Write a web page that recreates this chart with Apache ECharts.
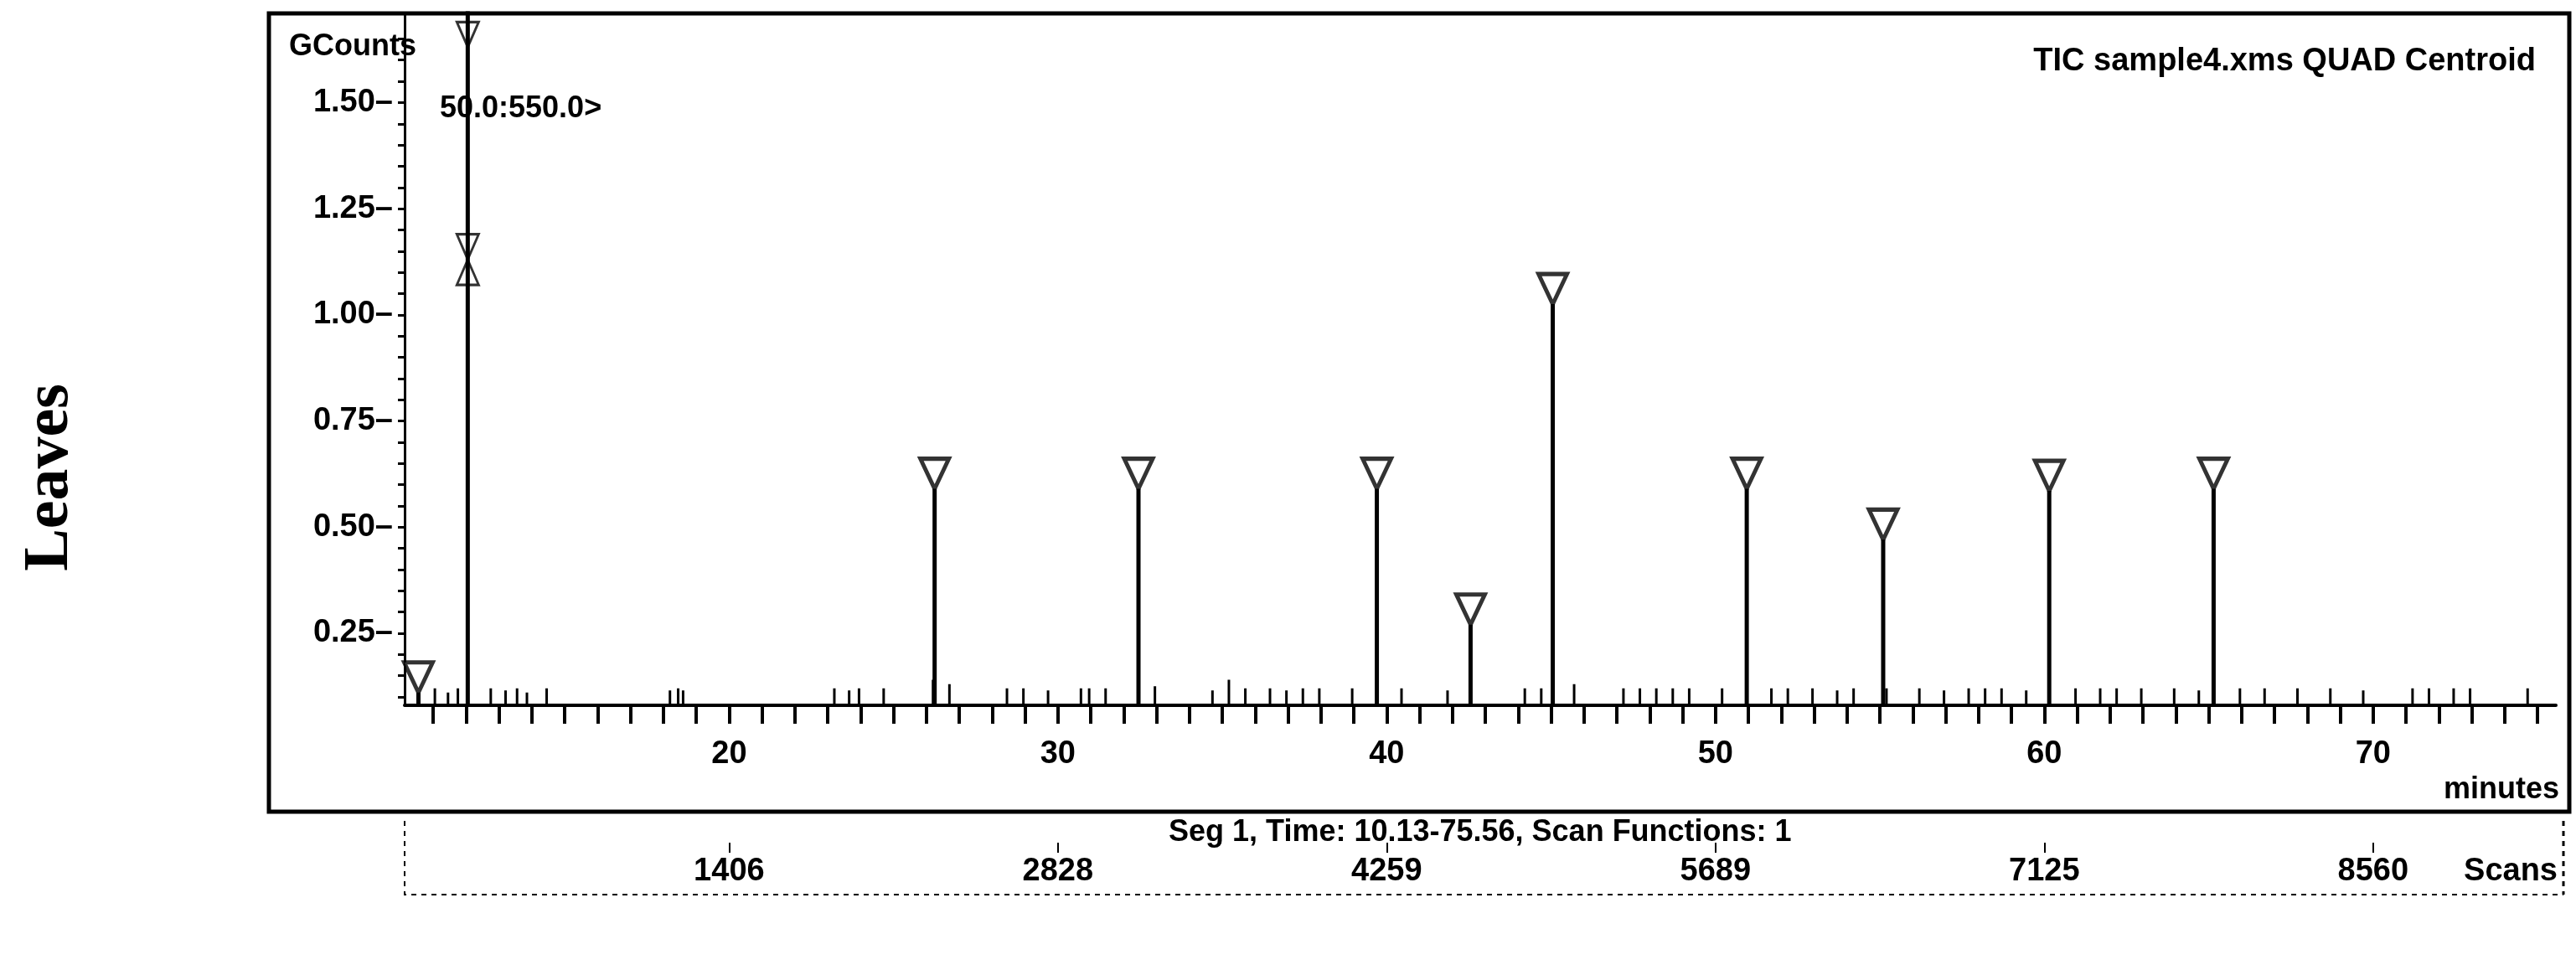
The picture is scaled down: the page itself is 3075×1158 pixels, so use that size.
<!DOCTYPE html>
<html>
<head>
  <meta charset="utf-8">
  <title>TIC sample4</title>
  <script src="https://cdn.jsdelivr.net/npm/echarts@6/dist/echarts.min.js"></script>
  <style>html,body{margin:0;padding:0;background:#fff}</style>
</head>
<body>
  <div id="main" style="width:3075px;height:1158px;"></div>
  <script type="text/javascript">
    // peaks (minutes, GCounts at apex)
    var peakTimes = [10.55, 12.05, 26.25, 32.45, 39.7, 42.55, 45.05, 50.95, 55.1, 60.15, 65.15]
    var peakValues = [0.11, 1.85, 0.59, 0.59, 0.59, 0.27, 1.025, 0.59, 0.47, 0.585, 0.59]
    // small spikes along the baseline
    var spikeTimes = [11.05, 11.45, 11.75, 12.75, 13.2, 13.55, 13.85, 14.45, 18.2, 18.45, 18.6, 23.2, 23.65, 23.95, 24.7,
      26.2, 26.7, 28.45, 28.95, 29.7, 30.7, 30.95, 31.45, 32.95, 34.7, 35.2, 35.7, 36.45, 36.95, 37.45, 37.95, 38.95,
      40.45, 41.85, 44.2, 44.7, 45.7, 47.2, 47.7, 48.2, 48.7, 49.2, 50.2, 51.7, 52.2, 52.95, 53.7, 54.2, 55.2, 56.2,
      56.95, 57.7, 58.2, 58.7, 59.45, 60.95, 61.7, 62.2, 62.95, 63.95, 64.7, 65.95, 66.7, 67.7, 68.7, 69.7, 71.2,
      71.7, 72.45, 72.95, 74.7]
    var spikeValues = [0.12, 0.11, 0.12, 0.12, 0.115, 0.12, 0.11, 0.12, 0.115, 0.12, 0.115, 0.12, 0.115, 0.12, 0.12,
      0.14, 0.13, 0.12, 0.12, 0.115, 0.12, 0.12, 0.12, 0.125, 0.115, 0.14, 0.12, 0.12, 0.115, 0.12, 0.12, 0.12,
      0.12, 0.115, 0.12, 0.12, 0.13, 0.12, 0.12, 0.12, 0.12, 0.12, 0.12, 0.12, 0.12, 0.12, 0.115, 0.12, 0.12, 0.12,
      0.115, 0.12, 0.12, 0.12, 0.115, 0.12, 0.12, 0.12, 0.12, 0.12, 0.115, 0.12, 0.12, 0.12, 0.12, 0.115, 0.12,
      0.12, 0.12, 0.12, 0.12]
    var yLabels = [0.25, 0.5, 0.75, 1.0, 1.25, 1.5]
    var minuteLabels = [20, 30, 40, 50, 60, 70]
    var scanLabels = ['1406', '2828', '4259', '5689', '7125', '8560']

    var base = 0.08
    var font = '"Liberation Sans Narrow", "Liberation Sans", Arial, sans-serif'

    function sticks(times, values) {
      var out = []
      for (var i = 0; i < times.length; i++) {
        out.push([times[i], base], [times[i], values[i]], '-')
      }
      return out
    }
    var minorTicks = []
    for (var m = 11; m <= 75; m++) minorTicks.push(m)
    var yMinor = []
    for (var v = 0.1; v <= 1.7; v += 0.05) yMinor.push(+v.toFixed(2))

    var markers = []
    for (var i = 0; i < peakTimes.length; i++) {
      if (i === 1) continue
      markers.push([peakTimes[i], peakValues[i]])
    }

    var myChart = echarts.init(document.getElementById('main'))
    var option = {
      animation: false,
      grid: [{ left: 483, right: 24, top: 16, bottom: 316 }],
      xAxis: [{
        type: 'value', min: 10.13, max: 75.56,
        splitLine: { show: false },
        axisLine: { onZero: false, lineStyle: { color: '#000', width: 4 } },
        axisTick: { customValues: minorTicks, length: 22, lineStyle: { color: '#000', width: 4 } },
        axisLabel: { customValues: minuteLabels, color: '#000', fontSize: 38, fontFamily: font, fontWeight: 'bold', margin: 40 }
      }, {
        type: 'value', min: 10.13, max: 75.56, position: 'bottom', offset: 176,
        splitLine: { show: false },
        axisLine: { show: false },
        axisTick: { customValues: minuteLabels, length: 12, inside: true, lineStyle: { color: '#000', width: 2 } },
        axisLabel: {
          customValues: minuteLabels, color: '#000', fontSize: 38, fontFamily: font, fontWeight: 'bold', margin: 4,
          formatter: function (val) { return scanLabels[minuteLabels.indexOf(Math.round(val))] }
        }
      }],
      yAxis: {
        type: 'value', min: base, max: 1.71,
        splitLine: { show: false },
        axisLine: { onZero: false, lineStyle: { color: '#000', width: 3 } },
        axisTick: { customValues: yMinor, length: 8, lineStyle: { color: '#000', width: 3 } },
        axisLabel: {
          customValues: yLabels, color: '#000', fontSize: 38, fontFamily: font, fontWeight: 'bold', margin: 14,
          formatter: function (val) { return val.toFixed(2) + '\u2013' }
        }
      },
      series: [{
        type: 'line', data: sticks(spikeTimes, spikeValues), symbol: 'none', clip: true,
        lineStyle: { color: '#000', width: 3 }
      }, {
        type: 'line', data: sticks(peakTimes, peakValues), symbol: 'none', clip: true,
        lineStyle: { color: '#000', width: 5 }
      }, {
        type: 'scatter', data: markers, symbol: 'triangle', symbolRotate: 180, symbolSize: [34, 36],
        symbolOffset: [0, -18], clip: false,
        itemStyle: { color: '#fff', borderColor: '#000', borderWidth: 5 }
      }, {
        type: 'scatter', data: [[12.05, 1.66], [12.05, 1.16]], symbol: 'triangle', symbolRotate: 180, symbolSize: [26, 30],
        itemStyle: { color: 'rgba(255,255,255,0)', borderColor: '#000', borderWidth: 3 }
      }, {
        type: 'scatter', data: [[12.05, 1.1]], symbol: 'triangle', symbolSize: [26, 30],
        itemStyle: { color: 'rgba(255,255,255,0)', borderColor: '#000', borderWidth: 3 }
      }],
      graphic: [
        { type: 'rect', shape: { x: 321, y: 16, width: 2746, height: 953 }, style: { fill: 'none', stroke: '#000', lineWidth: 5 } },
        { type: 'polyline', shape: { points: [[483, 980], [483, 1068], [3060, 1068]] }, style: { fill: 'none', stroke: '#000', lineWidth: 2, lineDash: [6, 6] } },
        { type: 'line', shape: { x1: 3060, y1: 980, x2: 3060, y2: 1068 }, style: { stroke: '#000', lineWidth: 3, lineDash: [6, 6] } },
        { type: 'text', left: 345, top: 38, style: { text: 'GCounts', fontSize: 36, fontFamily: font, fontWeight: 'bold', fill: '#000' } },
        { type: 'text', left: 525, top: 112, style: { text: '50.0:550.0>', fontSize: 36, fontFamily: font, fontWeight: 'bold', fill: '#000' } },
        { type: 'text', right: 48, top: 55, style: { text: 'TIC sample4.xms QUAD Centroid', fontSize: 38, fontFamily: font, fontWeight: 'bold', fill: '#000' } },
        { type: 'text', right: 20, top: 925, style: { text: 'minutes', fontSize: 36, fontFamily: font, fontWeight: 'bold', fill: '#000' } },
        { type: 'text', left: 1395, top: 976, style: { text: 'Seg 1, Time: 10.13-75.56, Scan Functions: 1', fontSize: 36, fontFamily: font, fontWeight: 'bold', fill: '#000' } },
        { type: 'text', right: 22, top: 1022, style: { text: 'Scans', fontSize: 38, fontFamily: font, fontWeight: 'bold', fill: '#000' } },
        { type: 'text', x: 60, y: 570, rotation: Math.PI / 2, style: { text: 'Leaves', fontSize: 76, fontFamily: '"Liberation Serif", "Times New Roman", serif', fontWeight: 'bold', fill: '#000', align: 'center', verticalAlign: 'middle' } }
      ]
    }
    myChart.setOption(option)
  </script>
</body>
</html>
